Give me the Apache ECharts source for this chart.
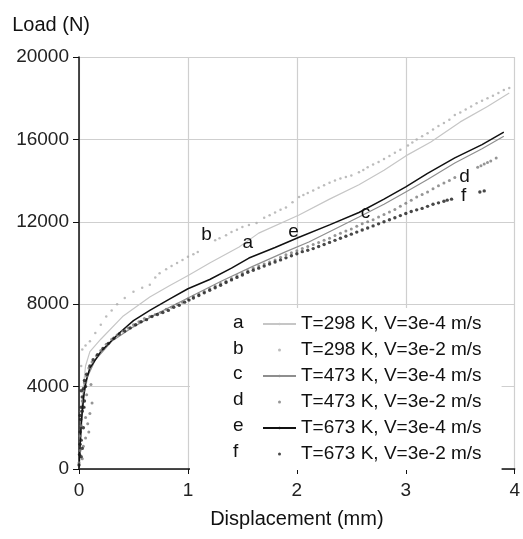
<!DOCTYPE html>
<html><head><meta charset="utf-8">
<script src="https://cdn.jsdelivr.net/npm/echarts@6/dist/echarts.min.js"></script>
<style>html,body{margin:0;padding:0;background:#fff}#c{width:523px;height:539px}</style>
</head><body><div id="c"></div>
<script>
const seriesNames = ['T=298 K, V=3e-4 m/s','T=298 K, V=3e-2 m/s','T=473 K, V=3e-4 m/s','T=473 K, V=3e-2 m/s','T=673 K, V=3e-4 m/s','T=673 K, V=3e-2 m/s'];
const letters = ['a','b','c','d','e','f'];
const xTicks = [0,1,2,3,4];
const yTicks = [0,4000,8000,12000,16000,20000];

const dataA = [[0,0],[0.01,1500],[0.03,3500],[0.06,5000],[0.1,5700],[0.2,6300],[0.4,7400],[0.65,8350],[0.83,8900],[1.01,9420],[1.2,10000],[1.47,10780],[1.65,11450],[2.02,12330],[2.3,13100],[2.57,13800],[2.8,14500],[3.0,15200],[3.23,15870],[3.5,16850],[3.75,17600],[3.95,18250]];
const dataB = [[0.02,5000],[0.03,5800],[0.06,6000],[0.1,6200],[0.15,6600],[0.2,7000],[0.25,7400],[0.3,7700],[0.35,8000],[0.42,8300],[0.5,8600],[0.58,8800],[0.65,8950],[0.7,9300],[0.74,9500],[0.8,9700],[0.85,9850],[0.9,10000],[0.95,10150],[1.0,10300],[1.05,10420],[1.09,10530],[1.25,11100],[1.29,11200],[1.35,11350],[1.4,11500],[1.45,11620],[1.5,11750],[1.56,11850],[1.63,11940],[1.7,12200],[1.75,12320],[1.8,12450],[1.85,12580],[1.9,12700],[1.96,12950],[2.02,13200],[2.06,13300],[2.1,13400],[2.15,13520],[2.2,13650],[2.25,13780],[2.3,13900],[2.35,14000],[2.4,14100],[2.45,14180],[2.5,14250],[2.57,14400],[2.61,14520],[2.65,14650],[2.7,14780],[2.75,14900],[2.8,15050],[2.85,15200],[2.9,15350],[2.95,15500],[3.02,15700],[3.06,15850],[3.1,16000],[3.15,16150],[3.2,16300],[3.25,16480],[3.3,16650],[3.35,16800],[3.4,16950],[3.45,17180],[3.5,17300],[3.55,17450],[3.6,17600],[3.65,17750],[3.7,17880],[3.75,18000],[3.8,18120],[3.85,18250],[3.9,18400],[3.95,18500]];
const dataC = [[0,0],[0.01,1000],[0.03,2600],[0.05,3700],[0.08,4500],[0.15,5300],[0.3,6200],[0.5,6900],[0.7,7500],[1.0,8300],[1.3,9100],[1.6,9850],[1.9,10550],[2.11,11020],[2.35,11650],[2.57,12230],[2.8,12850],[3.0,13450],[3.2,14050],[3.45,14850],[3.7,15550],[3.9,16150]];
const dataD = [[0.0,300],[0.01,900],[0.01,1600],[0.02,2100],[0.02,2800],[0.03,3300],[0.04,3800],[0.05,4200],[0.07,4500],[0.09,4900],[0.1,2700],[0.12,3200],[0.08,2200],[0.06,1500],[0.05,3000],[0.07,3600],[0.04,1100],[0.03,500],[0.09,1800],[0.06,2500],[0.11,4100],[0.12,5200],[0.16,5500],[0.2,5750],[0.25,6050],[0.3,6300],[0.35,6500],[0.4,6700],[0.45,6850],[0.5,7000],[0.55,7150],[0.6,7300],[0.65,7400],[0.7,7500],[0.75,7600],[0.8,7750],[0.85,7850],[0.9,8000],[0.95,8100],[1.0,8250],[1.05,8380],[1.1,8500],[1.15,8620],[1.2,8750],[1.25,8880],[1.3,9000],[1.35,9120],[1.4,9250],[1.45,9380],[1.5,9500],[1.55,9620],[1.6,9750],[1.65,9850],[1.7,9950],[1.75,10050],[1.8,10150],[1.85,10280],[1.9,10400],[1.95,10500],[2.0,10600],[2.05,10700],[2.1,10800],[2.15,10900],[2.2,11000],[2.25,11100],[2.3,11200],[2.35,11330],[2.4,11450],[2.45,11550],[2.5,11650],[2.55,11780],[2.6,11900],[2.65,12000],[2.7,12100],[2.75,12230],[2.8,12350],[2.85,12480],[2.9,12600],[2.95,12750],[3.0,12900],[3.05,13050],[3.1,13200],[3.15,13320],[3.2,13450],[3.25,13600],[3.3,13750],[3.35,13880],[3.4,14000],[3.45,14150],[3.66,14650],[3.69,14720],[3.72,14800],[3.75,14880],[3.78,14950],[3.83,15100]];
const dataE = [[0,0],[0.01,1200],[0.02,2200],[0.04,3400],[0.06,4200],[0.1,4900],[0.2,5700],[0.37,6600],[0.5,7200],[0.65,7700],[0.83,8250],[1.0,8750],[1.2,9200],[1.4,9750],[1.56,10240],[1.8,10750],[2.02,11250],[2.3,11850],[2.57,12450],[2.8,13100],[3.0,13700],[3.2,14350],[3.45,15100],[3.7,15750],[3.9,16350]];
const dataF = [[0.0,200],[0.005,700],[0.01,1200],[0.01,1800],[0.015,2400],[0.02,3000],[0.03,3500],[0.04,3900],[0.05,4300],[0.03,1000],[0.04,2000],[0.02,600],[0.01,2600],[0.02,1400],[0.03,2800],[0.05,3300],[0.06,4000],[0.04,3000],[0.02,3800],[0.07,4600],[0.1,5000],[0.13,5300],[0.17,5550],[0.22,5850],[0.27,6100],[0.32,6350],[0.37,6550],[0.42,6700],[0.47,6850],[0.52,7000],[0.57,7150],[0.62,7250],[0.67,7400],[0.72,7500],[0.77,7600],[0.82,7700],[0.87,7850],[0.92,7950],[0.97,8100],[1.01,8200],[1.05,8300],[1.1,8420],[1.15,8550],[1.2,8680],[1.25,8800],[1.3,8920],[1.35,9050],[1.4,9180],[1.45,9300],[1.5,9420],[1.55,9550],[1.6,9650],[1.65,9750],[1.7,9850],[1.75,9950],[1.8,10050],[1.85,10150],[1.9,10250],[1.95,10350],[2.0,10450],[2.05,10550],[2.1,10620],[2.15,10700],[2.2,10800],[2.25,10900],[2.3,11000],[2.35,11100],[2.4,11200],[2.45,11300],[2.5,11400],[2.55,11500],[2.6,11600],[2.65,11700],[2.7,11800],[2.75,11900],[2.8,12000],[2.85,12100],[2.9,12200],[2.95,12300],[3.0,12400],[3.05,12500],[3.1,12580],[3.15,12650],[3.2,12750],[3.25,12850],[3.3,12920],[3.35,13000],[3.38,13050],[3.42,13100],[3.68,13450],[3.72,13500]];
const labelPos = [[1.55,10970],[1.17,11360],[2.63,12430],[3.54,14170],[1.97,11500],[3.53,13250]];

const FONT = 'Liberation Sans, Arial, sans-serif';
const chart = echarts.init(document.getElementById('c'), null, {renderer:'canvas'});

const styles = [
  {type:'line', color:'#c6c6c6', width:1.2},
  {type:'scatter', color:'#ababab', size:2.5},
  {type:'line', color:'#8e8e8e', width:1.2},
  {type:'scatter', color:'#7a7a7a', size:3},
  {type:'line', color:'#111111', width:1.5},
  {type:'scatter', color:'#1a1a1a', size:3.4}
];
const allData = [dataA,dataB,dataC,dataD,dataE,dataF];

const series = styles.map((s,i)=>{
  const base = {
    name: seriesNames[i],
    type: s.type,
    data: allData[i],
    z: 2,
    markPoint: {
      symbol:'circle', symbolSize:0, silent:true,
      label:{show:true, formatter:letters[i], color:'#111', fontFamily:FONT, fontSize:19, position:'inside'},
      data:[{coord: labelPos[i]}]
    }
  };
  if (s.type==='line') {
    Object.assign(base,{showSymbol:false, symbol:'none', lineStyle:{color:s.color,width:s.width}, itemStyle:{color:s.color}, animation:false});
  } else {
    Object.assign(base,{symbol:'circle', symbolSize:s.size, itemStyle:{color:s.color}, animation:false});
  }
  return base;
});

const graphics = letters.map((l,i)=>({
  type:'text', left:233, top:313+i*25.8, z:100,
  style:{text:l, font:'19px '+FONT, fill:'#111'}
}));

chart.setOption({
  backgroundColor:'#fff',
  animation:false,
  grid:{left:79, right:6, top:57, bottom:70, containLabel:false},
  xAxis:{
    type:'value', min:0, max:4, interval:1,
    name:'Displacement (mm)', nameLocation:'middle', nameGap:40,
    nameTextStyle:{fontFamily:FONT, fontSize:20, color:'#111'},
    axisLine:{show:true, lineStyle:{color:'#111', width:1.5}},
    axisTick:{show:true, length:5, inside:false, lineStyle:{color:'#111'}},
    axisLabel:{fontFamily:FONT, fontSize:19, color:'#222', margin:12, formatter:(v)=>String(v)},
    splitLine:{show:true, lineStyle:{color:'#cfcfcf', width:1.2}}
  },
  yAxis:{
    type:'value', min:0, max:20000, interval:4000,
    name:'Load (N)', nameLocation:'end', nameGap:22,
    nameTextStyle:{fontFamily:FONT, fontSize:20, color:'#111', align:'right', padding:[0,-11,0,0]},
    axisLine:{show:true, lineStyle:{color:'#111', width:1.5}},
    axisTick:{show:true, length:6, inside:false, lineStyle:{color:'#111'}},
    axisLabel:{fontFamily:FONT, fontSize:19, color:'#222', margin:10, formatter:(v)=>String(v)},
    splitLine:{show:true, lineStyle:{color:'#cfcfcf', width:1.2}}
  },
  legend:{
    show:true, orient:'vertical', left:190, top:308,
    padding:[6,20,6,72], backgroundColor:'#fff',
    itemWidth:33, itemHeight:3, itemGap:6,
    selectedMode:false,
    textStyle:{fontFamily:FONT, fontSize:19, color:'#111', lineHeight:20},
    data: seriesNames.map((n,i)=> styles[i].type==='line' ? {name:n} : {name:n, icon:'circle'})
  },
  graphic: graphics,
  series: series
});
</script></body></html>
